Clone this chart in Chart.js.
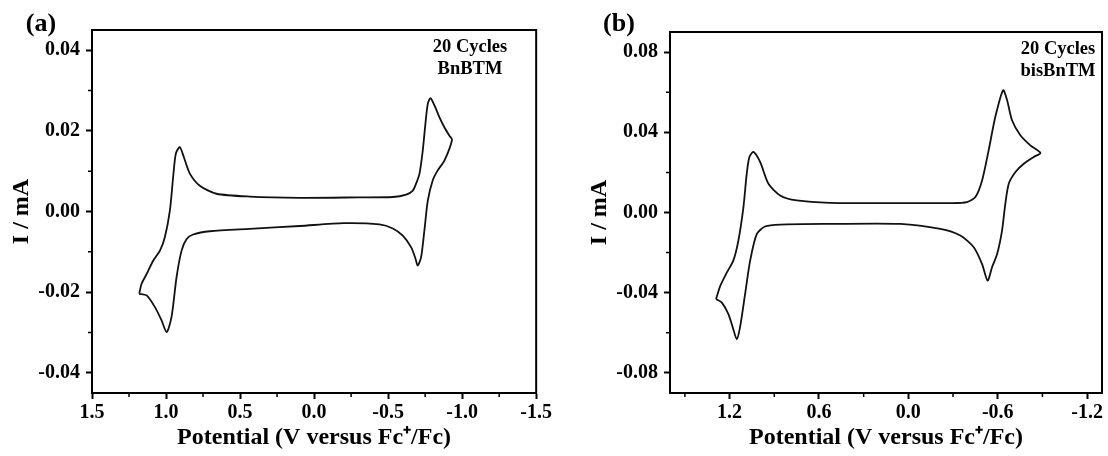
<!DOCTYPE html>
<html>
<head>
<meta charset="utf-8">
<script src="https://cdn.jsdelivr.net/npm/chart.js@4.4.1/dist/chart.umd.min.js"></script>
<style>
  html, body { margin: 0; padding: 0; background: #fff; }
  #wrap { position: relative; width: 1108px; height: 456px; }
  .panel { position: absolute; top: 0; width: 554px; height: 456px; }
  #pa { left: 0; }
  #pb { left: 554px; }
</style>
</head>
<body>
<div id="wrap">
  <div class="panel" id="pa"><canvas id="ca"></canvas></div>
  <div class="panel" id="pb"><canvas id="cb"></canvas></div>
</div>
<script>
'use strict';

// ── DATA: panel (a) BnBTM, one closed CV loop (potential V, current mA) ──
const E_A = [
  1.181, 1.131, 1.075, 1.030, 0.996, 0.963, 0.929, 0.895, 0.861, 0.817, 0.704, 0.435, 0.097,
  -0.200, -0.442, -0.532, -0.599, -0.656, -0.685, -0.700, -0.723, -0.745, -0.768, -0.801,
  -0.835, -0.880, -0.932,
  -0.914, -0.880, -0.846, -0.813, -0.786, -0.768, -0.752, -0.734, -0.712, -0.689, -0.667,
  -0.622, -0.532, -0.300, 0.097, 0.435, 0.659, 0.772, 0.839, 0.880, 0.907, 0.934, 0.952,
  0.974, 1.008, 1.041, 1.087, 1.131, 1.165, 1.181
];
const I_A = [
  -0.0204, -0.0208, -0.0237, -0.0270, -0.0299, -0.0262, -0.0163, -0.0097, -0.0068, -0.0057,
  -0.0049, -0.0043, -0.0036, -0.0029, -0.0032, -0.0042, -0.0060, -0.0089, -0.0117, -0.0134,
  -0.0113, -0.0047, 0.0027, 0.0077, 0.0102, 0.0126, 0.0178,
  0.0188, 0.0209, 0.0234, 0.0263, 0.0281, 0.0267, 0.0218, 0.0151, 0.0094, 0.0069, 0.0052,
  0.0042, 0.0036, 0.0035, 0.0034, 0.0037, 0.0044, 0.0064, 0.0094, 0.0135, 0.0160, 0.0143,
  0.0085, 0.0002, -0.0064, -0.0097, -0.0122, -0.0155, -0.0179, -0.0204
];

// ── DATA: panel (b) bisBnTM ──
const E_B = [
  1.291, 1.253, 1.208, 1.175, 1.152, 1.130, 1.096, 1.062, 1.017, 0.962, 0.861, 0.525, 0.054,
  -0.215, -0.349, -0.439, -0.495, -0.532, -0.562, -0.596, -0.629, -0.651, -0.674, -0.719,
  -0.775, -0.842, -0.887,
  -0.819, -0.752, -0.696, -0.663, -0.636, -0.584, -0.539, -0.495, -0.450, -0.394, -0.282,
  0.054, 0.525, 0.749, 0.861, 0.939, 0.995, 1.040, 1.067, 1.085, 1.107, 1.141, 1.175,
  1.219, 1.262, 1.291
];
const I_B = [
  -0.0432, -0.0448, -0.0507, -0.0582, -0.0632, -0.0573, -0.0407, -0.0240, -0.0107, -0.0070,
  -0.0060, -0.0057, -0.0057, -0.0082, -0.0115, -0.0173, -0.0257, -0.0340, -0.0273, -0.0207,
  -0.0090, 0.0043, 0.0143, 0.0202, 0.0243, 0.0277, 0.0297,
  0.0335, 0.0385, 0.0460, 0.0560, 0.0610, 0.0477, 0.0310, 0.0160, 0.0077, 0.0052, 0.0047,
  0.0047, 0.0048, 0.0060, 0.0085, 0.0143, 0.0252, 0.0302, 0.0277, 0.0193, 0.0027, -0.0140,
  -0.0240, -0.0300, -0.0365, -0.0432
];

// ── AXES ──
const X_TICKS_A = [1.5, 1.0, 0.5, 0.0, -0.5, -1.0, -1.5];
const X_MINOR_A = [1.25, 0.75, 0.25, -0.25, -0.75, -1.25];
const Y_TICKS_A = [-0.04, -0.02, 0.00, 0.02, 0.04];
const Y_MINOR_A = [-0.03, -0.01, 0.01, 0.03];

const X_TICKS_B = [1.2, 0.6, 0.0, -0.6, -1.2];
const X_MINOR_B = [1.5, 0.9, 0.3, -0.3, -0.9];
const Y_TICKS_B = [-0.08, -0.04, 0.00, 0.04, 0.08];
const Y_MINOR_B = [-0.06, -0.02, 0.02, 0.06];

const NOTES_A = ['20 Cycles', 'BnBTM'];
const NOTES_B = ['20 Cycles', 'bisBnTM'];
const X_TITLE = 'Potential (V versus Fc\u207A/Fc)';
const Y_TITLE = 'I / mA';

const SERIF = "'Liberation Serif', 'Times New Roman', serif";

// ── FRAME, MINOR TICKS, LABELS ──
const decor = {
  id: 'decor',
  afterDraw(chart, args, o) {
    const { ctx, chartArea: a, scales: { x, y } } = chart;
    ctx.save();
    ctx.strokeStyle = '#000';
    ctx.lineWidth = 2;
    ctx.strokeRect(a.left, a.top, a.right - a.left, a.bottom - a.top);
    ctx.lineWidth = 1.5;
    ctx.beginPath();
    o.minorX.forEach(v => {
      const px = x.getPixelForValue(v);
      ctx.moveTo(px, a.bottom); ctx.lineTo(px, a.bottom + 4);
    });
    o.minorY.forEach(v => {
      const py = y.getPixelForValue(v);
      ctx.moveTo(a.left, py); ctx.lineTo(a.left - 4, py);
    });
    ctx.stroke();
    ctx.fillStyle = '#000';
    ctx.textAlign = 'center';
    ctx.textBaseline = 'middle';
    ctx.font = 'bold 26px ' + SERIF;
    ctx.fillText(o.label, o.labelX, o.labelY);
    ctx.font = 'bold 18.5px ' + SERIF;
    o.notes.forEach((t, i) => ctx.fillText(t, o.noteX, o.noteY + i * 22));
    ctx.restore();
  }
};

function makeChart(id, E, I, cfg) {
  const pts = E.map((e, i) => ({ x: e, y: I[i] }));
  const tickFont = { family: SERIF, size: 20, weight: 'bold' };
  const titleFont = { family: SERIF, size: 24, weight: 'bold' };
  const grid = {
    drawOnChartArea: false, drawTicks: true, tickLength: 6,
    tickWidth: 2, tickColor: '#000', color: '#000'
  };
  return new Chart(document.getElementById(id).getContext('2d'), {
    type: 'scatter',
    data: {
      datasets: [{
        data: pts,
        showLine: true,
        borderColor: '#111',
        borderWidth: 1.8,
        pointRadius: 0,
        tension: 0.25,
        fill: false
      }]
    },
    options: {
      responsive: true,
      maintainAspectRatio: false,
      animation: false,
      layout: { padding: { top: cfg.padTop, right: cfg.padRight, left: 0, bottom: 0 } },
      plugins: {
        legend: { display: false },
        tooltip: { enabled: false },
        decor: {
          label: cfg.label, labelX: cfg.labelX, labelY: 24,
          notes: cfg.notes, noteX: cfg.noteX, noteY: cfg.noteY,
          minorX: cfg.minorX, minorY: cfg.minorY
        }
      },
      scales: {
        x: {
          type: 'linear', reverse: true, min: cfg.xMin, max: cfg.xMax,
          afterBuildTicks: s => { s.ticks = cfg.xTicks.map(v => ({ value: v })); },
          afterFit: s => { s.height = 63; },
          ticks: { callback: v => v.toFixed(1), font: tickFont, color: '#000', padding: 2, maxRotation: 0, autoSkip: false },
          grid,
          border: { display: true, color: '#000', width: 2 },
          title: { display: true, text: X_TITLE, font: titleFont, color: '#000', padding: { top: 0, bottom: 4 } }
        },
        y: {
          type: 'linear', min: cfg.yMin, max: cfg.yMax,
          afterBuildTicks: s => { s.ticks = cfg.yTicks.map(v => ({ value: v })); },
          afterFit: s => { s.width = cfg.yWidth; },
          ticks: { callback: v => v.toFixed(2), font: tickFont, color: '#000', padding: 6 },
          grid,
          border: { display: true, color: '#000', width: 2 },
          title: { display: true, text: Y_TITLE, font: titleFont, color: '#000', padding: { top: cfg.yTitlePad, bottom: 0 } }
        }
      }
    },
    plugins: [decor]
  });
}

makeChart('ca', E_A, I_A, {
  xMin: -1.5, xMax: 1.5, yMin: -0.045, yMax: 0.045,
  xTicks: X_TICKS_A, yTicks: Y_TICKS_A, minorX: X_MINOR_A, minorY: Y_MINOR_A,
  padTop: 30, padRight: 17, yWidth: 92, yTitlePad: 7,
  label: '(a)', labelX: 41, notes: NOTES_A, noteX: 470, noteY: 47
});

makeChart('cb', E_B, I_B, {
  xMin: -1.3, xMax: 1.6, yMin: -0.09, yMax: 0.09,
  xTicks: X_TICKS_B, yTicks: Y_TICKS_B, minorX: X_MINOR_B, minorY: Y_MINOR_B,
  padTop: 32, padRight: 6, yWidth: 116, yTitlePad: 31,
  label: '(b)', labelX: 65, notes: NOTES_B, noteX: 504, noteY: 49
});
</script>
</body>
</html>
